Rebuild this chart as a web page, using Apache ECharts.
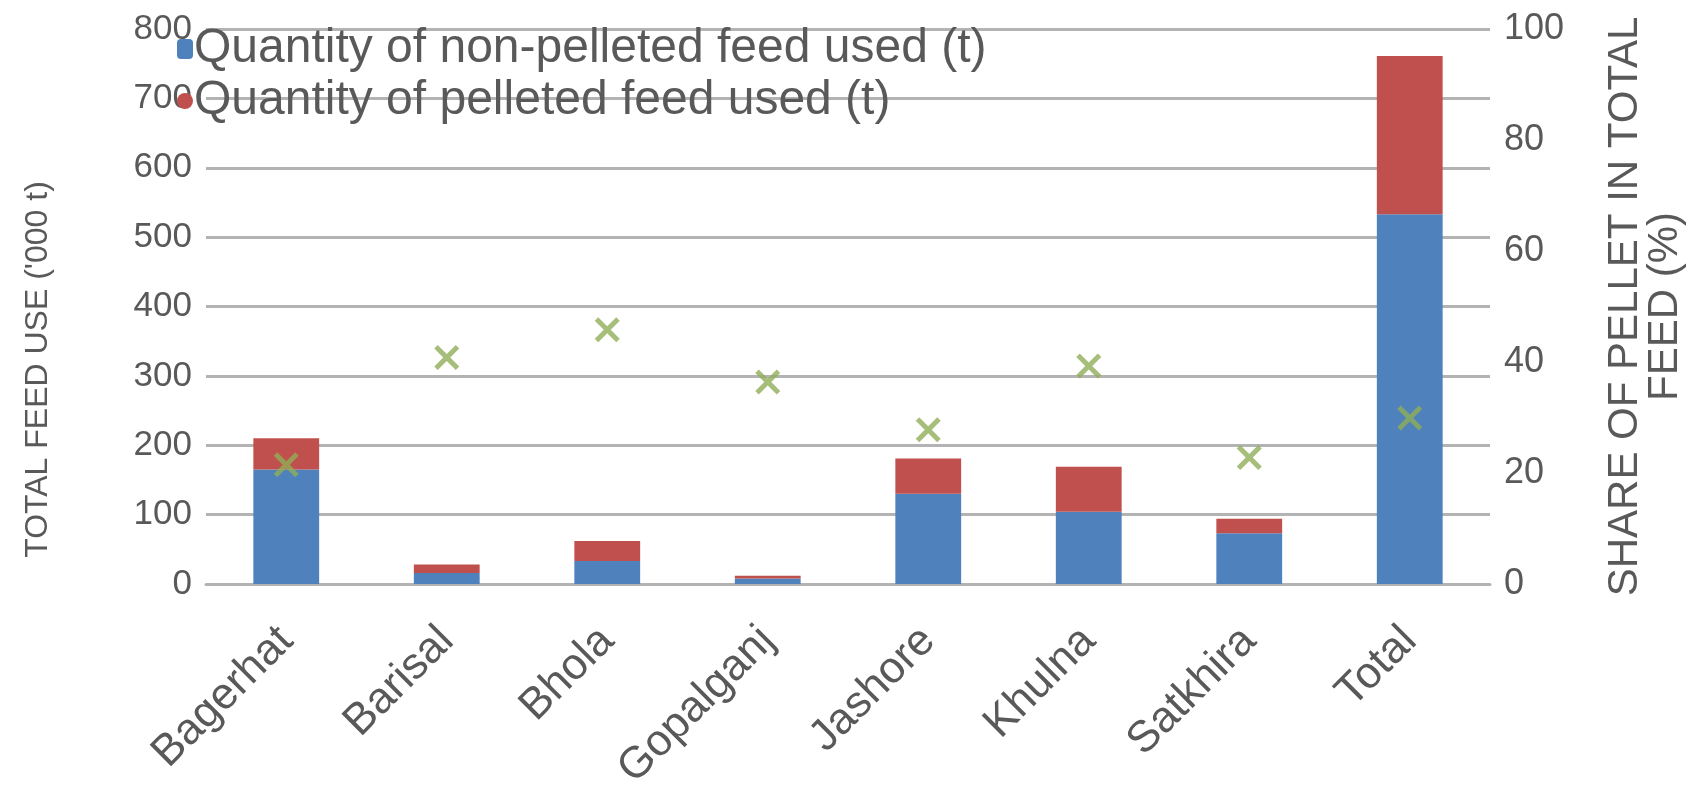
<!DOCTYPE html>
<html>
<head>
<meta charset="utf-8">
<script src="https://cdn.jsdelivr.net/npm/echarts@6/dist/echarts.min.js"></script>
<style>
  html, body { margin: 0; padding: 0; background: #fff; }
  #chart { width: 1702px; height: 788px; }
</style>
</head>
<body>
<div id="chart"></div>
<script>
// Districts along the x axis
const districts = ['Bagerhat', 'Barisal', 'Bhola', 'Gopalganj', 'Jashore', 'Khulna', 'Satkhira', 'Total'];
// Feed used, thousand tonnes
const nonPelleted = [165, 16, 33, 8, 130, 104, 73, 533];
const pelleted = [45, 12, 29, 4, 51, 65, 21, 228];
// Share of pellet in total feed, %
const pelletShare = [21.5, 40.8, 45.8, 36.4, 27.8, 39.3, 22.8, 29.9];

const seriesNames = ['Quantity of non-pelleted feed used (t)', 'Quantity of pelleted feed used (t)'];
const leftAxisTitle = "TOTAL FEED USE ('000 t)";
const rightAxisTitle = 'SHARE OF PELLET IN TOTAL\nFEED (%)';

const FONT = '"Liberation Sans", Arial, sans-serif';
const TEXT = '#595959';
const GRID = '#b3b3b3';

// bold "x" marker
const xMark = 'path://M1.4,0 L5,3.6 L8.6,0 L10,1.4 L6.4,5 L10,8.6 L8.6,10 L5,6.4 L1.4,10 L0,8.6 L3.6,5 L0,1.4 Z';

const chart = echarts.init(document.getElementById('chart'), null, { renderer: 'canvas' });
chart.setOption({
  animation: false,
  textStyle: { fontFamily: FONT },
  grid: { left: 206, right: 212, top: 29, bottom: 204, containLabel: false, outerBoundsMode: 'none' },
  legend: {
    data: [
      { name: seriesNames[0], icon: 'roundRect' },
      { name: seriesNames[1], icon: 'circle' }
    ],
    orient: 'vertical',
    left: 172,
    top: 20,
    itemWidth: 16,
    itemHeight: 20,
    itemGap: 4,
    textStyle: { fontSize: 48, color: TEXT, fontFamily: FONT, lineHeight: 48, padding: [0, 0, 0, -4] }
  },
  xAxis: {
    type: 'category',
    data: districts,
    axisLine: { show: true, lineStyle: { color: GRID, width: 3 } },
    axisTick: { show: false },
    axisLabel: { rotate: 45, fontSize: 44, color: TEXT, margin: 50, interval: 0, fontFamily: FONT }
  },
  yAxis: [
    {
      type: 'value',
      min: 0, max: 800, interval: 100,
      name: leftAxisTitle,
      nameLocation: 'middle',
      nameGap: 152,
      nameRotate: 90,
      nameTextStyle: { fontSize: 32, color: TEXT, fontFamily: FONT, padding: [0, 126, 0, 0] },
      axisLine: { show: false },
      axisTick: { show: false },
      axisLabel: { fontSize: 35, color: TEXT, margin: 14, fontFamily: FONT },
      splitLine: { lineStyle: { color: GRID, width: 3 } }
    },
    {
      type: 'value',
      min: 0, max: 100, interval: 20,
      name: rightAxisTitle,
      nameLocation: 'middle',
      nameGap: 115,
      nameRotate: 90,
      nameTextStyle: { fontSize: 42, color: TEXT, fontFamily: FONT, lineHeight: 40 },
      axisLine: { show: false },
      axisTick: { show: false },
      axisLabel: { fontSize: 36, color: TEXT, margin: 14, fontFamily: FONT },
      splitLine: { show: false }
    }
  ],
  series: [
    {
      name: seriesNames[0],
      type: 'bar',
      stack: 'feed',
      data: nonPelleted,
      barCategoryGap: '59%',
      itemStyle: { color: '#4f81bd' }
    },
    {
      name: seriesNames[1],
      type: 'bar',
      stack: 'feed',
      data: pelleted,
      itemStyle: { color: '#c0504d' }
    },
    {
      name: 'Share of pellet in total feed (%)',
      type: 'scatter',
      yAxisIndex: 1,
      data: pelletShare,
      symbol: xMark,
      symbolSize: 25,
      itemStyle: { color: '#8fae58' },
      z: 5
    }
  ]
});
</script>
</body>
</html>
